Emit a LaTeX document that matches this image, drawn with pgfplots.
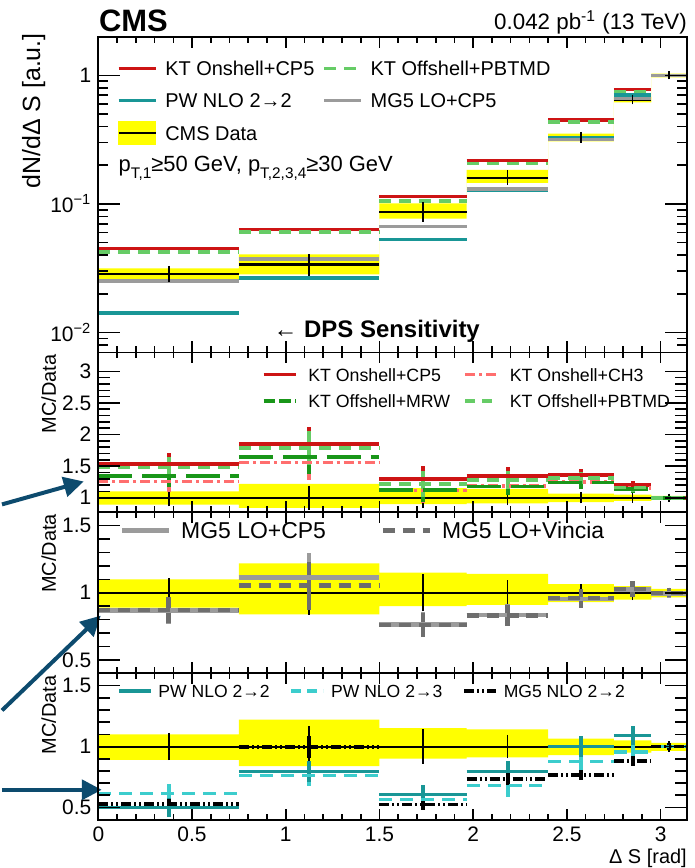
\documentclass[border=0pt]{standalone}
\usepackage{fontspec}
\setmainfont{Liberation Sans}
\usepackage{pgfplots}
\pgfplotsset{compat=1.18}
\usepackage{pgfplotstable}
\usepgfplotslibrary{fillbetween}
\usetikzlibrary{arrows.meta}

\definecolor{ktred}{RGB}{205,20,20}
\definecolor{ktpb}{RGB}{102,204,102}
\definecolor{ktmrw}{RGB}{25,150,25}
\definecolor{ktch}{RGB}{255,110,110}
\definecolor{pwteal}{RGB}{25,150,150}
\definecolor{pwcyan}{RGB}{60,205,205}
\definecolor{mglo}{RGB}{155,155,155}
\definecolor{mgvin}{RGB}{110,110,110}
\definecolor{arrowblue}{RGB}{13,75,110}
\definecolor{banda}{RGB}{255,255,0}

% Normalised Delta S spectrum: bin left edge, bin centre, data with band, models
\pgfplotstableread{
lo      c      dat     dlo     dhi     de      kton    ktpb    pw      mg
0       0.375  0.0286  0.0254  0.0315  0.0025  0.0448  0.0422  0.0142  0.0251
0.75    1.125  0.0338  0.0283  0.0405  0.0047  0.0633  0.0604  0.0266  0.0374
1.5     1.733  0.0869  0.0770  0.1010  0.0100  0.1137  0.1050  0.0526  0.0668
1.965   2.183  0.160   0.1460  0.1840  0.0120  0.218   0.2055  0.127   0.131
2.4     2.575  0.330   0.3070  0.3515  0.0132  0.449   0.433   0.325   0.318
2.75    2.850  0.648   0.6160  0.6800  0.0195  0.778   0.746   0.703   0.660
2.95    3.046  1.000   0.9650  1.0300  0.0150  1.000   1.000   1.000   1.000
3.1416  nan    1.000   0.9650  1.0300  0.0150  1.000   1.000   1.000   1.000
}\spectrum

% Data relative to itself: uncertainty band and statistical error
\pgfplotstableread{
lo      c      one  blo    bhi    de
0       0.375  1    0.89   1.10   0.085
0.75    1.125  1    0.84   1.22   0.14
1.5     1.733  1    0.90   1.15   0.115
1.965   2.183  1    0.91   1.14   0.07
2.4     2.575  1    0.93   1.065  0.04
2.75    2.850  1    0.95   1.05   0.03
2.95    3.046  1    0.965  1.03   0.015
3.1416  nan    1    0.965  1.03   0.015
}\ratiodata

% KaTie ratios
\pgfplotstableread{
lo      c      on     ch     mrw    pb     e
0       0.375  1.532  1.258  1.347  1.479  0.17
0.75    1.125  1.853  1.558  1.643  1.785  0.27
1.5     1.733  1.295  1.115  1.126  1.216  0.20
1.965   2.183  1.347  1.180  1.179  1.284  0.14
2.4     2.575  1.358  1.250  1.242  1.310  0.10
2.75    2.850  1.195  1.150  1.142  1.163  0.07
2.95    3.046  1.000  1.000  1.000  1.000  0.03
3.1416  nan    1.000  1.000  1.000  1.000  0.03
}\ktratio

% MG5 LO ratios
\pgfplotstableread{
lo      c      cp     vin    e
0       0.375  0.868  0.872  0.10
0.75    1.125  1.113  1.053  0.18
1.5     1.733  0.765  0.760  0.09
1.965   2.183  0.835  0.830  0.08
2.4     2.575  0.955  0.960  0.07
2.75    2.850  1.025  1.030  0.06
2.95    3.046  0.995  1.000  0.035
3.1416  nan    0.995  1.000  0.035
}\mgratio

% NLO ratios
\pgfplotstableread{
lo      c      pwa    pwb    mgn    epw    emg
0       0.375  0.501  0.616  0.528  0.075  0.04
0.75    1.125  0.795  0.762  0.995  0.085  0.09
1.5     1.733  0.608  0.567  0.526  0.080  0.05
1.965   2.183  0.795  0.680  0.734  0.090  0.05
2.4     2.575  1.000  0.877  0.767  0.090  0.04
2.75    2.850  1.090  0.953  0.882  0.080  0.04
2.95    3.046  1.000  1.000  1.000  0.030  0.03
3.1416  nan    1.000  1.000  1.000  0.030  0.03
}\nloratio

\pgfplotsset{
  panel/.style={
    scale only axis, width=295.15pt,
    xmin=0, xmax=3.1416,
    axis on top,
    tick align=inside,
    xtick={0,0.5,1,1.5,2,2.5,3},
    minor x tick num=4,
    xtick pos=both, ytick pos=both,
    axis line style={line width=0.9pt},
    every tick/.append style={black, line width=0.8pt},
    major tick length=11pt, minor tick length=6pt,
    xtick style={/pgfplots/major tick length=5.5pt, /pgfplots/minor tick length=3pt},
    ticklabel style={font=\fontsize{10.5}{12}\selectfont},
    legend cell align=left,
  },
  histo/.style={jump mark left, forget plot},
  nomark/.style={only marks, mark size=0pt, mark options={draw=none, fill=none}, forget plot},
  errs/.style={nomark,
    error bars/y dir=both, error bars/y explicit, error bars/error mark=none},
  dataerrs/.style={nomark,
    error bars/y dir=both, error bars/y explicit, error bars/error mark=-,
    error bars/error mark options={draw=black, mark size=1.6pt, line width=0.9pt},
    error bars/error bar style={draw=black, line width=0.9pt}},
  histleg/.style={legend image code/.code={\draw[##1] (0pt,0pt) -- (#1,0pt);}},
  datleg/.style={legend image code/.code={%
    \fill[banda, overlay] (0pt,-5.75pt) rectangle (#1,5.75pt);
    \draw[black, line width=1.1pt] (0pt,0pt) -- (#1,0pt);}},
}

\begin{document}
\begin{tikzpicture}

% ---------------- spectrum ----------------
\begin{axis}[panel, at={(48.35pt,-18.35pt)}, anchor=north west, height=158.3pt,
  ymode=log, ymin=0.007, ymax=2,
  ytick={0.01,0.1,1},
  yticklabels={10\textsuperscript{−2},10\textsuperscript{−1},1},
  minor ytick={0.008,0.009,0.02,0.03,0.04,0.05,0.06,0.07,0.08,0.09,0.2,0.3,0.4,0.5,0.6,0.7,0.8,0.9,2},
  minor tick length=5pt,
  xticklabels={},
  legend style={at={(rel axis cs:0.031,0.924)}, anchor=north west, draw=none, fill=none,
    inner sep=0pt, font=\fontsize{10}{12}\selectfont, row sep=8.95pt,
    nodes={inner sep=0pt, text height=7.3pt, text depth=0pt},
    /tikz/every odd column/.append style={column sep=4pt},
    /tikz/every even column/.append style={column sep=4pt}},
  legend columns=2]
  \addplot[name path=sphi, draw=none, const plot mark left, forget plot] table[x=lo, y=dhi] {\spectrum};
  \addplot[name path=splo, draw=none, const plot mark left, forget plot] table[x=lo, y=dlo] {\spectrum};
  \addplot[banda, forget plot] fill between[of=sphi and splo];
  \addplot[histo, black, line width=1.1pt] table[x=lo, y=dat] {\spectrum};
  \addplot[histo, ktred, line width=1.7pt] table[x=lo, y=kton] {\spectrum};
  \addplot[histo, ktpb, line width=1.7pt, dash pattern=on 6pt off 4pt] table[x=lo, y=ktpb] {\spectrum};
  \addplot[histo, pwteal, line width=1.7pt] table[x=lo, y=pw] {\spectrum};
  \addplot[histo, mglo, line width=1.7pt] table[x=lo, y=mg] {\spectrum};
  \addplot[dataerrs] table[x=c, y=dat, y error=de] {\spectrum};

  \addlegendimage{histleg=18.5pt, ktred, line width=1.7pt}
  \addlegendentry{KT Onshell+CP5}
  \addlegendimage{histleg=18.5pt, ktpb, line width=1.7pt, dash pattern=on 6pt off 4pt}
  \addlegendentry{KT Offshell+PBTMD}
  \addlegendimage{histleg=18.5pt, pwteal, line width=1.7pt}
  \addlegendentry{PW NLO 2→2}
  \addlegendimage{histleg=18.5pt, mglo, line width=1.7pt}
  \addlegendentry{MG5 LO+CP5}
  \addlegendimage{datleg=18.5pt}
  \addlegendentry{CMS Data}
\end{axis}

% ---------------- KaTie / data ----------------
\begin{axis}[panel, at={(48.35pt,-176.65pt)}, anchor=north west, height=80.1pt,
  ymin=0.77, ymax=3.3,
  ytick={1,1.5,2,2.5,3}, yticklabels={1,1.5,2,2.5,3},
  minor y tick num=4,
  xticklabels={},
  legend style={at={(rel axis cs:0.2766,0.906)}, anchor=north west, draw=none, fill=none,
    inner sep=0pt, font=\fontsize{8.9}{10}\selectfont, row sep=6.7pt,
    nodes={inner sep=0pt, text height=6.6pt, text depth=0pt},
    /tikz/every odd column/.append style={column sep=5pt},
    /tikz/every even column/.append style={column sep=6.5pt}},
  legend columns=2]
  \addplot[name path=khi, draw=none, const plot mark left, forget plot] table[x=lo, y=bhi] {\ratiodata};
  \addplot[name path=klo, draw=none, const plot mark left, forget plot] table[x=lo, y=blo] {\ratiodata};
  \addplot[banda, forget plot] fill between[of=khi and klo];
  \addplot[histo, black, line width=1pt] table[x=lo, y=one] {\ratiodata};
  \addplot[dataerrs] table[x=c, y=one, y error=de] {\ratiodata};
  \addplot[errs, error bars/error bar style={draw=ktred, line width=2pt}] table[x=c, y=on, y error=e] {\ktratio};
  \addplot[errs, error bars/error bar style={draw=ktch, line width=2pt}] table[x=c, y=ch, y error=e] {\ktratio};
  \addplot[errs, error bars/error bar style={draw=ktmrw, line width=2pt}] table[x=c, y=mrw, y error=e] {\ktratio};
  \addplot[errs, error bars/error bar style={draw=ktpb, line width=2pt}] table[x=c, y=pb, y error=e] {\ktratio};
  \addplot[histo, ktred, line width=1.9pt] table[x=lo, y=on] {\ktratio};
  \addplot[histo, ktch, line width=1.9pt, dash pattern=on 5pt off 2pt on 1.5pt off 2pt] table[x=lo, y=ch] {\ktratio};
  \addplot[histo, ktmrw, line width=1.9pt, dash pattern=on 17pt off 5pt] table[x=lo, y=mrw] {\ktratio};
  \addplot[histo, ktpb, line width=1.9pt, dash pattern=on 6pt off 4pt] table[x=lo, y=pb] {\ktratio};

  \addlegendimage{histleg=16.5pt, ktred, line width=1.9pt}
  \addlegendentry{KT Onshell+CP5}
  \addlegendimage{histleg=16.5pt, ktch, line width=1.9pt, dash pattern=on 5pt off 2pt on 1.5pt off 2pt}
  \addlegendentry{KT Onshell+CH3}
  \addlegendimage{histleg=16.5pt, ktmrw, line width=1.9pt, dash pattern=on 6pt off 2pt}
  \addlegendentry{KT Offshell+MRW}
  \addlegendimage{histleg=16.5pt, ktpb, line width=1.9pt, dash pattern=on 5pt off 3.5pt}
  \addlegendentry{KT Offshell+PBTMD}

  \coordinate (a1s) at (axis cs:-0.514,0.894);
  \coordinate (a1t) at (axis cs:-0.078,1.257);
\end{axis}

% ---------------- MG5 LO / data ----------------
\begin{axis}[panel, at={(48.35pt,-256.75pt)}, anchor=north west, height=80.75pt,
  ymin=0.4, ymax=1.6,
  ytick={0.5,1,1.5}, yticklabels={0.5,1,1.5},
  minor y tick num=4,
  xticklabels={},
  legend style={at={(rel axis cs:0.036,0.942)}, anchor=north west, draw=none, fill=none,
    inner sep=0pt, font=\fontsize{11.5}{13}\selectfont,
    nodes={inner sep=0pt, text height=8.4pt, text depth=0pt},
    /tikz/every odd column/.append style={column sep=5pt},
    /tikz/every even column/.append style={column sep=27.5pt}},
  legend columns=2]
  \addplot[name path=mhi, draw=none, const plot mark left, forget plot] table[x=lo, y=bhi] {\ratiodata};
  \addplot[name path=mlo, draw=none, const plot mark left, forget plot] table[x=lo, y=blo] {\ratiodata};
  \addplot[banda, forget plot] fill between[of=mhi and mlo];
  \addplot[histo, black, line width=1pt] table[x=lo, y=one] {\ratiodata};
  \addplot[dataerrs] table[x=c, y=one, y error=de] {\ratiodata};
  \addplot[errs, error bars/error bar style={draw=mglo, line width=2.2pt}] table[x=c, y=cp, y error=e] {\mgratio};
  \addplot[errs, error bars/error bar style={draw=mgvin, line width=2.2pt}] table[x=c, y=vin, y error=e] {\mgratio};
  \addplot[histo, mglo, line width=2.2pt] table[x=lo, y=cp] {\mgratio};
  \addplot[histo, mgvin, line width=2.2pt, dash pattern=on 6pt off 4pt] table[x=lo, y=vin] {\mgratio};

  \addlegendimage{histleg=23.5pt, mglo, line width=2.2pt}
  \addlegendentry{MG5 LO+CP5}
  \addlegendimage{histleg=23.5pt, mgvin, line width=2.2pt, dash pattern=on 6pt off 4pt}
  \addlegendentry{MG5 LO+Vincia}

  \coordinate (a2s) at (axis cs:-0.514,0.124);
  \coordinate (a2t) at (axis cs:0.013,0.83);
\end{axis}

% ---------------- NLO / data ----------------
\begin{axis}[panel, at={(48.35pt,-337.5pt)}, anchor=north west, height=73.35pt,
  ymin=0.4, ymax=1.6,
  ytick={0.5,1,1.5}, yticklabels={0.5,1,1.5},
  minor y tick num=4,
  xticklabels={0,0.5,1,1.5,2,2.5,3},
  legend style={at={(rel axis cs:0.031,0.927)}, anchor=north west, draw=none, fill=none,
    inner sep=0pt, font=\fontsize{8.8}{10}\selectfont,
    nodes={inner sep=0pt, text height=6.6pt, text depth=0pt},
    /tikz/every odd column/.append style={column sep=3pt},
    /tikz/every even column/.append style={column sep=10pt}},
  legend columns=3]
  \addplot[name path=nhi, draw=none, const plot mark left, forget plot] table[x=lo, y=bhi] {\ratiodata};
  \addplot[name path=nlo, draw=none, const plot mark left, forget plot] table[x=lo, y=blo] {\ratiodata};
  \addplot[banda, forget plot] fill between[of=nhi and nlo];
  \addplot[histo, black, line width=1pt] table[x=lo, y=one] {\ratiodata};
  \addplot[dataerrs] table[x=c, y=one, y error=de] {\ratiodata};
  \addplot[errs, error bars/error bar style={draw=pwcyan, line width=2pt}] table[x=c, y=pwb, y error=epw] {\nloratio};
  \addplot[errs, error bars/error bar style={draw=pwteal, line width=2pt}] table[x=c, y=pwa, y error=epw] {\nloratio};
  \addplot[errs, error bars/error bar style={draw=black, line width=2pt}] table[x=c, y=mgn, y error=emg] {\nloratio};
  \addplot[histo, pwteal, line width=1.8pt] table[x=lo, y=pwa] {\nloratio};
  \addplot[histo, pwcyan, line width=1.8pt, dash pattern=on 6.5pt off 4pt] table[x=lo, y=pwb] {\nloratio};
  \addplot[histo, black, line width=1.8pt, dash pattern=on 5pt off 1.5pt on 1pt off 1.5pt on 1pt off 1.5pt] table[x=lo, y=mgn] {\nloratio};

  \addlegendimage{histleg=16pt, pwteal, line width=1.8pt}
  \addlegendentry{PW NLO 2→2}
  \addlegendimage{histleg=16pt, pwcyan, line width=1.8pt, dash pattern=on 5pt off 3pt}
  \addlegendentry{PW NLO 2→3}
  \addlegendimage{histleg=16pt, black, line width=1.8pt, dash pattern=on 5pt off 1.5pt on 1pt off 1.5pt on 1pt off 1.5pt}
  \addlegendentry{MG5 NLO 2→2}

  \coordinate (a3s) at (axis cs:-0.514,0.645);
  \coordinate (a3t) at (axis cs:0.018,0.645);
\end{axis}

% titles and axis labels
\node[anchor=base west, inner sep=0pt, font=\bfseries\fontsize{15.5}{18}\selectfont] at (48.5pt,-15.85pt) {CMS};
\node[anchor=base east, inner sep=0pt, font=\fontsize{11.2}{13}\selectfont] at (343.5pt,-14.65pt) {0.042 pb\textsuperscript{-1} (13 TeV)};
\node[rotate=90, anchor=east, inner sep=0pt, font=\fontsize{12.5}{14}\selectfont] at (16pt,-16.5pt) {dN/dΔ S [a.u.]};
\node[rotate=90, anchor=east, inner sep=0pt, font=\fontsize{10}{12}\selectfont] at (23.5pt,-177.5pt) {MC/Data};
\node[rotate=90, anchor=east, inner sep=0pt, font=\fontsize{10}{12}\selectfont] at (23.5pt,-257.5pt) {MC/Data};
\node[rotate=90, anchor=east, inner sep=0pt, font=\fontsize{10}{12}\selectfont] at (23.5pt,-338.5pt) {MC/Data};
\node[anchor=base east, inner sep=0pt, font=\fontsize{10}{12}\selectfont] at (343.5pt,-433pt) {Δ S [rad]};
\node[anchor=base west, inner sep=0pt, font=\fontsize{11}{13}\selectfont] at (58.35pt,-85.85pt)
  {p\raisebox{-3.5pt}{\fontsize{7.7}{8}\selectfont T,1}≥50 GeV, p\raisebox{-3.5pt}{\fontsize{7.7}{8}\selectfont T,2,3,4}≥30 GeV};
\node[anchor=base west, inner sep=0pt, font=\fontsize{12}{14}\selectfont] at (136pt,-169pt) {← \textbf{DPS Sensitivity}};

% pointers
\draw[arrowblue, line width=2pt, -{Triangle[length=10pt, width=10pt]}] (a1s) -- (a1t);
\draw[arrowblue, line width=2pt, -{Triangle[length=10pt, width=10pt]}] (a2s) -- (a2t);
\draw[arrowblue, line width=2pt, -{Triangle[length=10pt, width=10pt]}] (a3s) -- (a3t);

% page frame
\path[use as bounding box] (0pt,0pt) rectangle (347pt,-434pt);
\end{tikzpicture}
\end{document}
